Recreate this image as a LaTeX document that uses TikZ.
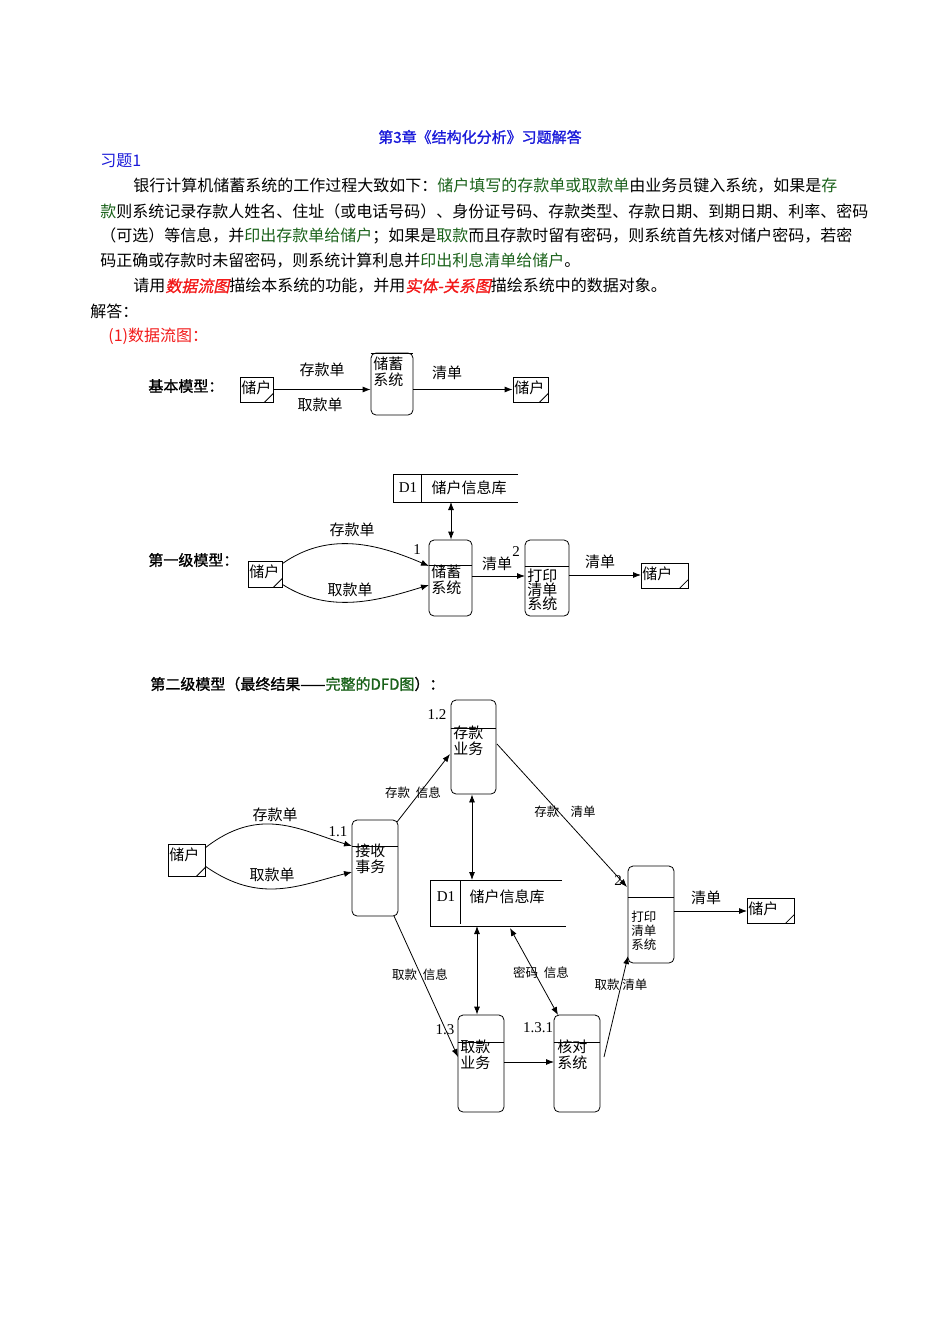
\documentclass[tikz,border=0pt]{standalone}
\usepackage{fontspec}
\setmainfont{Liberation Serif}
\newfontfamily\cjk{Noto Sans CJK SC}
\newfontfamily\cjkb[FakeBold=1.2]{Noto Sans CJK SC}
\newfontfamily\cjkit[FakeSlant=0.2,FakeBold=1]{Noto Sans CJK SC}
\usetikzlibrary{arrows.meta}
\definecolor{tblue}{rgb}{0.1,0.1,0.85}
\definecolor{tgreen}{rgb}{0.1,0.38,0.1}
\definecolor{tred}{rgb}{0.95,0.1,0.1}
\tikzset{
 txt/.style={inner sep=0pt,anchor=west,font=\cjk\fontsize{16}{16}\selectfont},
 lab/.style={inner sep=0pt,font=\cjk\fontsize{15}{15}\selectfont},
 slab/.style={inner sep=0pt,font=\cjk\fontsize{12.5}{13}\selectfont},
 num/.style={inner sep=0pt,font=\fontsize{15}{15}\selectfont},
 proc/.style={draw,rounded corners=5pt,inner sep=0pt,thick},
 ent/.style={draw,inner sep=0pt,thick},
 ptext/.style={inner sep=0pt,anchor=north west,align=left,font=\cjk\fontsize{15}{16}\selectfont},
 arr/.style={-{Latex[length=8pt,width=6pt]}},
 darr/.style={{Latex[length=8pt,width=6pt]}-{Latex[length=8pt,width=6pt]}},
}
\newcommand{\entity}[5]{% name, x1,y1,x2,y2
 \node[ent,minimum width={(#4-#2)*1pt},minimum height={(#5-#3)*1pt}] (#1) at ({(#2+#4)/2},{(#3+#5)/2}) {};
 \node[ptext,font=\cjk\fontsize{15}{15}\selectfont] (#1t) at (#2+1,#3+3) {储户};
 \draw (#1.south east)++(-9,0) -- ++(9,-9);
}
\newcommand{\process}[6]{% name, x1,y1,x2,y2,divider y
 \node[proc,minimum width={(#4-#2)*1pt},minimum height={(#5-#3)*1pt}] (#1) at ({(#2+#4)/2},{(#3+#5)/2}) {};
 \draw (#1.west|-0,#6) -- (#1.east|-0,#6);
}
\begin{document}
\begin{tikzpicture}[x=1pt,y=-1pt,line width=0.8pt]
\useasboundingbox (0,0) rectangle (950,1344);
% text
\node[txt,anchor=center,text=tblue,font=\cjkb\fontsize{15}{15}\selectfont] (title) at (480,137) {第3章《结构化分析》习题解答};
\node[txt,text=tblue] (ex) at (100,161) {习题1};
\node[txt] (l1) at (133,186) {银行计算机储蓄系统的工作过程大致如下：\textcolor{tgreen}{储户填写的存款单或取款单}由业务员键入系统，如果是\textcolor{tgreen}{存}};
\node[txt] (l2) at (100,211) {\textcolor{tgreen}{款}则系统记录存款人姓名、住址（或电话号码）、身份证号码、存款类型、存款日期、到期日期、利率、密码};
\node[txt] (l3) at (100,236) {（可选）等信息，并\textcolor{tgreen}{印出存款单给储户}；如果是\textcolor{tgreen}{取款}而且存款时留有密码，则系统首先核对储户密码，若密};
\node[txt] (l4) at (100,261) {码正确或存款时未留密码，则系统计算利息并\textcolor{tgreen}{印出利息清单给储户}。};
\node[txt] (l5) at (133,286) {请用\textcolor{tred}{\cjkit 数据流图}描绘本系统的功能，并用\textcolor{tred}{\cjkit 实体-关系图}描绘系统中的数据对象。};
\node[txt] (ans) at (90,311) {解答：};
\node[txt,text=tred] (s1) at (108,336) {(1)数据流图：};
% basic model
\node[txt,font=\cjkb\fontsize{15}{15}\selectfont] (bm) at (148,386) {基本模型：};
\entity{be1}{240}{377}{273}{402}
\process{bp}{371}{353}{413}{415}{353}
\node[ptext] (bpt) at (373,356) {储蓄\\系统};
\entity{be2}{513}{377}{548}{402}
\draw[arr] (be1.east) -- (bp.west|-be1.east);
\node[lab] (bl1) at (322,370) {存款单};
\node[lab] (bl2) at (320,405) {取款单};
\draw[arr] (bp.east|-be2.west) -- (be2.west);
\node[lab] (bl3) at (447,373) {清单};
% level 1
\node[txt,font=\cjkb\fontsize{15}{15}\selectfont] (m1) at (148,560) {第一级模型：};
\draw (518,474) -- (393,474) -- (393,502) -- (518,502);
\draw (421,474) -- (421,502);
\coordinate (s1b) at (451,502);
\node[num] (s1d) at (408,488) {D1};
\node[lab] (s1n) at (469,488) {储户信息库};
\process{p1}{429}{540}{472}{616}{565}
\node[ptext] (p1t) at (431,564) {储蓄\\系统};
\node[num] (p1n) at (417,550) {1};
\draw[darr] (s1b) -- (p1.north-|s1b);
\entity{e1}{248}{561}{282}{587}
\draw[arr] (e1.north east)++(0,3) .. controls (330,530) and (380,545) .. (429,566);
\draw[arr] (e1.south east)++(0,-3) .. controls (330,615) and (380,600) .. (429,585);
\node[lab] (c1) at (352,530) {存款单};
\node[lab] (c2) at (350,590) {取款单};
\process{p2}{525}{540}{569}{616}{566}
\node[ptext,font=\cjk\fontsize{15}{14}\selectfont] (p2t) at (527,568) {打印\\清单\\系统};
\draw[arr] (472,576) -- (525,576);
\node[lab] (c3) at (497,564) {清单};
\node[num] (p2n) at (516,552) {2};
\entity{e2}{641}{563}{688}{588}
\draw[arr] (569,575) -- (641,575);
\node[lab] (c4) at (600,562) {清单};
% level 2
\node[txt,font=\cjkb\fontsize{15}{15}\selectfont] (m2) at (150,684) {第二级模型（最终结果——\textcolor{tgreen}{完整的DFD图}）：};
\entity{f1}{168}{844}{205}{876}
\process{q11}{352}{820}{398}{916}{846}
\node[ptext] (q11t) at (355,843) {接收\\事务};
\node[num] (q11n) at (338,832) {1.1};
\draw[arr] (205,848) .. controls (260,805) and (300,830) .. (352,846);
\draw[arr] (205,866) .. controls (260,905) and (300,885) .. (352,872);
\node[lab] (d1) at (275,815) {存款单};
\node[lab] (d2) at (272,875) {取款单};
\process{q12}{451}{700}{496}{794}{728}
\node[ptext] (q12t) at (453,725) {存款\\业务};
\node[num] (q12n) at (437,715) {1.2};
\draw[arr] (397,822) -- (450,754);
\node[slab] (d3) at (413,793) {存款\ \ 信息};
\draw (562,880) -- (430,880) -- (430,926) -- (566,926);
\draw (460,880) -- (460,924);
\node[num] (s2d) at (446,897) {D1};
\node[lab] (s2n) at (507,897) {储户信息库};
\coordinate (s2a) at (472,880);
\coordinate (s2b) at (477,926);
\coordinate (s2c) at (510,928);
\draw[darr] (q12.south-|s2a) -- (s2a);
\process{q2}{628}{866}{674}{963}{897}
\node[ptext,font=\cjk\fontsize{12.5}{14}\selectfont] (q2t) at (631,911) {打印\\清单\\系统};
\node[num] (q2n) at (618,881) {2};
\draw[arr] (497,744) -- (627,887);
\node[slab] (d4) at (565,812) {存款\ \ \ \ 清单};
\entity{f2}{747}{898}{794}{923}
\draw[arr] (674,911) -- (747,911);
\node[lab] (d5) at (706,898) {清单};
\process{q13}{458}{1015}{504}{1112}{1042}
\node[ptext] (q13t) at (460,1039) {取款\\业务};
\node[num] (q13n) at (445,1030) {1.3};
\draw[arr] (394,916) -- (458,1057);
\node[slab] (d6) at (420,975) {取款\ \ 信息};
\draw[darr] (s2b) -- (q13.north-|s2b);
\process{q131}{554}{1015}{600}{1112}{1042}
\node[ptext] (q131t) at (557,1039) {核对\\系统};
\node[num] (q131n) at (538,1028) {1.3.1};
\draw[darr] (s2c) -- (558,1015);
\node[slab] (d7) at (541,973) {密码\ \ 信息};
\draw[arr] (504,1062) -- (554,1062);
\draw[arr] (604,1057) -- (628,956);
\node[slab] (d8) at (621,985) {取款\ 清单};
\end{tikzpicture}
\end{document}
